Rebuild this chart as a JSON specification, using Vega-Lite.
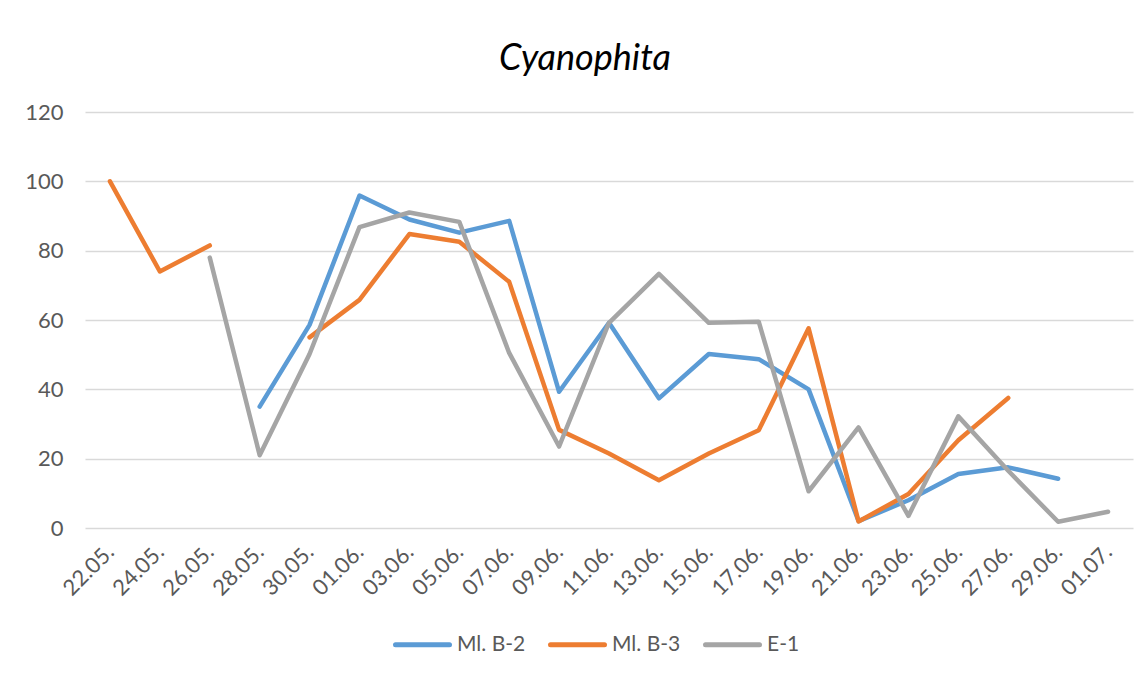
{
  "$schema": "https://vega.github.io/schema/vega-lite/v6.json",
  "width": 1048,
  "height": 416,
  "autosize": {"type": "none"},
  "padding": {"left": 85, "top": 112, "right": 15, "bottom": 150},
  "background": "white",
  "config": {
    "font": "Lato",
    "view": {"stroke": null}
  },
  "title": {
    "text": "Cyanophita",
    "font": "Lato",
    "fontStyle": "italic",
    "fontWeight": "normal",
    "fontSize": 36,
    "color": "#000000",
    "anchor": "middle",
    "dx": -24,
    "offset": 23
  },
  "data": {
    "values": [
      {"date": "22.05.", "series": "Ml. B-2", "value": null},
      {"date": "24.05.", "series": "Ml. B-2", "value": null},
      {"date": "26.05.", "series": "Ml. B-2", "value": null},
      {"date": "28.05.", "series": "Ml. B-2", "value": 35},
      {"date": "30.05.", "series": "Ml. B-2", "value": 58.6},
      {"date": "01.06.", "series": "Ml. B-2", "value": 95.9},
      {"date": "03.06.", "series": "Ml. B-2", "value": 89},
      {"date": "05.06.", "series": "Ml. B-2", "value": 85.2},
      {"date": "07.06.", "series": "Ml. B-2", "value": 88.6},
      {"date": "09.06.", "series": "Ml. B-2", "value": 39.3},
      {"date": "11.06.", "series": "Ml. B-2", "value": 59.2},
      {"date": "13.06.", "series": "Ml. B-2", "value": 37.4},
      {"date": "15.06.", "series": "Ml. B-2", "value": 50.2},
      {"date": "17.06.", "series": "Ml. B-2", "value": 48.7},
      {"date": "19.06.", "series": "Ml. B-2", "value": 40},
      {"date": "21.06.", "series": "Ml. B-2", "value": 2},
      {"date": "23.06.", "series": "Ml. B-2", "value": 8},
      {"date": "25.06.", "series": "Ml. B-2", "value": 15.6},
      {"date": "27.06.", "series": "Ml. B-2", "value": 17.5},
      {"date": "29.06.", "series": "Ml. B-2", "value": 14.2},
      {"date": "01.07.", "series": "Ml. B-2", "value": null},
      {"date": "22.05.", "series": "Ml. B-3", "value": 100},
      {"date": "24.05.", "series": "Ml. B-3", "value": 74},
      {"date": "26.05.", "series": "Ml. B-3", "value": 81.5},
      {"date": "28.05.", "series": "Ml. B-3", "value": null},
      {"date": "30.05.", "series": "Ml. B-3", "value": 55},
      {"date": "01.06.", "series": "Ml. B-3", "value": 65.8},
      {"date": "03.06.", "series": "Ml. B-3", "value": 84.8},
      {"date": "05.06.", "series": "Ml. B-3", "value": 82.6},
      {"date": "07.06.", "series": "Ml. B-3", "value": 71},
      {"date": "09.06.", "series": "Ml. B-3", "value": 28.3},
      {"date": "11.06.", "series": "Ml. B-3", "value": 21.5},
      {"date": "13.06.", "series": "Ml. B-3", "value": 13.8},
      {"date": "15.06.", "series": "Ml. B-3", "value": 21.5},
      {"date": "17.06.", "series": "Ml. B-3", "value": 28.2},
      {"date": "19.06.", "series": "Ml. B-3", "value": 57.6},
      {"date": "21.06.", "series": "Ml. B-3", "value": 1.9},
      {"date": "23.06.", "series": "Ml. B-3", "value": 9.8},
      {"date": "25.06.", "series": "Ml. B-3", "value": 25.3},
      {"date": "27.06.", "series": "Ml. B-3", "value": 37.5},
      {"date": "29.06.", "series": "Ml. B-3", "value": null},
      {"date": "01.07.", "series": "Ml. B-3", "value": null},
      {"date": "22.05.", "series": "E-1", "value": null},
      {"date": "24.05.", "series": "E-1", "value": null},
      {"date": "26.05.", "series": "E-1", "value": 78},
      {"date": "28.05.", "series": "E-1", "value": 21},
      {"date": "30.05.", "series": "E-1", "value": 50.2},
      {"date": "01.06.", "series": "E-1", "value": 86.8},
      {"date": "03.06.", "series": "E-1", "value": 91},
      {"date": "05.06.", "series": "E-1", "value": 88.3},
      {"date": "07.06.", "series": "E-1", "value": 50.5},
      {"date": "09.06.", "series": "E-1", "value": 23.5},
      {"date": "11.06.", "series": "E-1", "value": 59.2},
      {"date": "13.06.", "series": "E-1", "value": 73.3},
      {"date": "15.06.", "series": "E-1", "value": 59.2},
      {"date": "17.06.", "series": "E-1", "value": 59.5},
      {"date": "19.06.", "series": "E-1", "value": 10.6},
      {"date": "21.06.", "series": "E-1", "value": 29},
      {"date": "23.06.", "series": "E-1", "value": 3.5},
      {"date": "25.06.", "series": "E-1", "value": 32.2},
      {"date": "27.06.", "series": "E-1", "value": 16.5},
      {"date": "29.06.", "series": "E-1", "value": 1.8},
      {"date": "01.07.", "series": "E-1", "value": 4.7}
    ]
  },
  "mark": {
    "type": "line",
    "strokeWidth": 4.5,
    "strokeCap": "round",
    "strokeJoin": "round",
    "invalid": "break-paths-show-domains"
  },
  "encoding": {
    "x": {
      "field": "date",
      "type": "ordinal",
      "sort": null,
      "scale": {"type": "point", "padding": 0.5},
      "axis": {
        "title": null,
        "domain": false,
        "ticks": false,
        "grid": false,
        "labelAngle": -45,
        "labelAlign": "right",
        "labelBaseline": "middle",
        "labelFontSize": 22,
        "labelColor": "#595959",
        "labelPadding": 20
      }
    },
    "y": {
      "field": "value",
      "type": "quantitative",
      "scale": {"domain": [0, 120], "nice": false, "zero": true},
      "axis": {
        "title": null,
        "values": [0, 20, 40, 60, 80, 100, 120],
        "domain": false,
        "ticks": false,
        "grid": true,
        "gridColor": "#d9d9d9",
        "gridWidth": 1.3,
        "labelFontSize": 22,
        "labelColor": "#595959",
        "labelPadding": 22
      }
    },
    "color": {
      "field": "series",
      "type": "nominal",
      "sort": null,
      "scale": {
        "domain": ["Ml. B-2", "Ml. B-3", "E-1"],
        "range": ["#5B9BD5", "#ED7D31", "#A5A5A5"]
      },
      "legend": {
        "title": null,
        "orient": "none",
        "direction": "horizontal",
        "legendX": 308,
        "legendY": 503,
        "symbolType": "stroke",
        "symbolSize": 2916,
        "symbolStrokeWidth": 5,
        "labelFontSize": 21,
        "labelColor": "#595959",
        "labelOffset": 5,
        "columnPadding": 14,
        "encode": {
          "symbols": {"update": {"strokeCap": {"value": "round"}}}
        }
      }
    }
  }
}
